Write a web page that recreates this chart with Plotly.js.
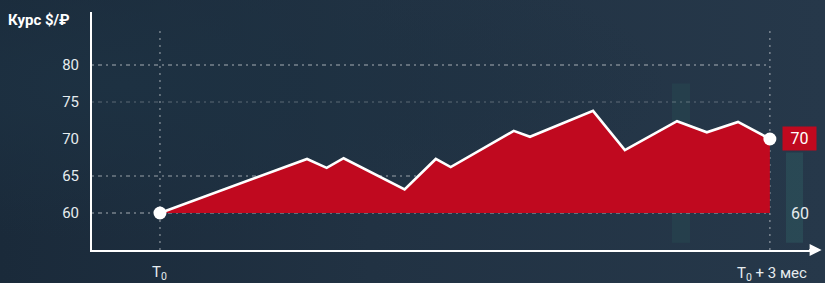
<!DOCTYPE html>
<html>
<head>
<meta charset="utf-8">
<script src="https://cdn.plot.ly/plotly-3.0.1.min.js"></script>
<style>
  html, body { margin: 0; padding: 0; }
  body {
    width: 825px; height: 283px; overflow: hidden;
    background: radial-gradient(ellipse at 15% 30%, #1d3142 0%, rgba(29,49,66,0) 55%),
                linear-gradient(90deg, #1a2a3a 0%, #213243 45%, #26384a 100%);
  }
  #chart { width: 825px; height: 283px; }
</style>
</head>
<body>
<div id="chart"></div>
<script>
// Data (days from T0, rate RUB per USD)
const days = [0, 21.7, 24.6, 27.1, 36.1, 40.7, 42.9, 52.2, 54.6, 63.9, 68.6, 76.3, 80.7, 85.3, 90];
const rate = [60, 67.3, 66.1, 67.4, 63.2, 67.3, 66.2, 71.1, 70.3, 73.8, 68.5, 72.4, 70.9, 72.3, 70];
const baseRate = 60;
const yTicks = [60, 65, 70, 75, 80];
const gridLevels = [60, 65, 75, 80];
const gridAlpha = [0.6, 0.55, 0.28, 0.6];
const xLabels = ['T<sub>0</sub>', 'T<sub>0</sub> + 3 мес'];
const yTitle = 'Курс $/₽';

const xMin = -10.03, xMax = 97.1;
const yMin = 55, yMax = 87.16;
const xStart = days[0], xEnd = days[days.length - 1];
const endRate = rate[rate.length - 1];

const font = 'Roboto, "Open Sans", sans-serif';

const traces = [
  { x: [xStart, xEnd], y: [baseRate, baseRate], mode: 'lines',
    line: { width: 0, color: 'rgba(0,0,0,0)' }, hoverinfo: 'skip', showlegend: false },
  { x: days, y: rate, mode: 'lines', fill: 'tonexty', fillcolor: '#c0091f',
    line: { color: '#ffffff', width: 2.6 }, showlegend: false },
  { x: [xStart, xEnd], y: [rate[0], endRate], mode: 'markers',
    marker: { color: '#ffffff', size: 13 }, showlegend: false }
];

const shapes = [];
// background decoration bars
shapes.push({ type: 'rect', xref: 'paper', yref: 'paper', layer: 'below',
  x0: (672 - 92) / 726, x1: (690 - 92) / 726, y0: 0.03, y1: 0.7,
  fillcolor: 'rgba(40,80,85,0.35)', line: { width: 0 } });
shapes.push({ type: 'rect', xref: 'paper', yref: 'paper', layer: 'below',
  x0: (786 - 92) / 726, x1: (803 - 92) / 726, y0: 0.03, y1: 0.41,
  fillcolor: 'rgba(45,90,95,0.5)', line: { width: 0 } });
// horizontal gridlines
gridLevels.forEach((g, i) => {
  shapes.push({ type: 'line', xref: 'x', yref: 'y', layer: 'below',
    x0: xMin, x1: xEnd, y0: g, y1: g,
    line: { color: 'rgba(255,255,255,' + gridAlpha[i] + ')', width: 1.2, dash: '2px,4px,4px,4px' } });
});
// vertical dotted lines at T0 and T0+3
[xStart, xEnd].forEach(v => {
  shapes.push({ type: 'line', xref: 'x', yref: 'paper', layer: 'below',
    x0: v, x1: v, y0: 0, y1: 0.93,
    line: { color: 'rgba(255,255,255,0.45)', width: 1.3, dash: '2px,5px' } });
});

const annotations = [
  { text: '<b>' + yTitle + '</b>', xref: 'paper', yref: 'paper', x: (6 - 92) / 726, y: (250 - 20) / 238,
    xanchor: 'left', yanchor: 'middle', showarrow: false, font: { family: font, size: 15, color: '#ffffff' } },
  { text: xLabels[0], xref: 'x', yref: 'paper', x: xStart, y: -(273 - 250) / 238, xanchor: 'center', yanchor: 'middle',
    showarrow: false, font: { family: font, size: 15, color: '#e6ecef' } },
  { text: xLabels[1], xref: 'x', yref: 'paper', x: (735 - 160) / 610 * 90, y: -(274 - 250) / 238, xanchor: 'left', yanchor: 'middle',
    showarrow: false, font: { family: font, size: 15, color: '#e6ecef' } },
  { text: String(endRate), xref: 'x', yref: 'y', x: (800 - 160) / 610 * 90, y: endRate,
    xanchor: 'center', yanchor: 'middle', showarrow: false, bgcolor: '#c0091f', borderpad: 0,
    width: 33, height: 23,
    font: { family: font, size: 16, color: '#ffffff' } },
  { text: String(baseRate), xref: 'x', yref: 'y', x: (800 - 160) / 610 * 90, y: baseRate,
    xanchor: 'center', yanchor: 'middle', showarrow: false,
    font: { family: font, size: 16, color: '#e6ecef' } },
  // arrow head on x axis
  { text: '', xref: 'paper', yref: 'paper', x: 1.005, y: 0, ax: -14, ay: 0, axref: 'pixel', ayref: 'pixel',
    showarrow: true, arrowhead: 2, arrowsize: 1.2, arrowwidth: 2, arrowcolor: '#ffffff' }
];

const layout = {
  width: 825, height: 283,
  margin: { l: 92, r: 7, t: 12, b: 33 },
  paper_bgcolor: 'rgba(0,0,0,0)', plot_bgcolor: 'rgba(0,0,0,0)',
  xaxis: { range: [xMin, xMax], showgrid: false, zeroline: false, showticklabels: false,
    showline: true, linecolor: '#ffffff', linewidth: 2, ticks: '', fixedrange: true },
  yaxis: { range: [yMin, yMax], tickvals: yTicks, showgrid: false, zeroline: false,
    showline: true, linecolor: '#ffffff', linewidth: 2, ticks: '', ticklabelstandoff: 8,
    tickfont: { family: font, size: 15, color: '#e6ecef' }, fixedrange: true },
  shapes: shapes,
  annotations: annotations
};

Plotly.newPlot('chart', traces, layout, { displayModeBar: false, staticPlot: true });
</script>
</body>
</html>
